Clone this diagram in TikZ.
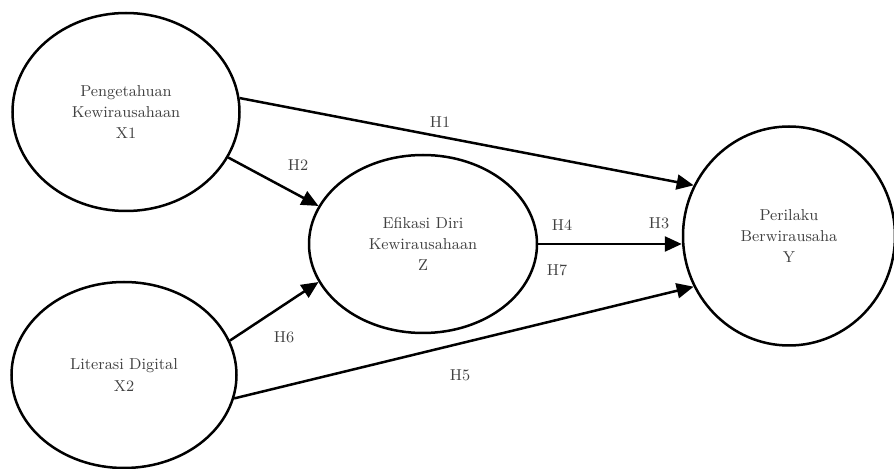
\documentclass[tikz,border=0pt]{standalone}
\usepackage{amsmath}
\usepackage{tikz}
\usetikzlibrary{arrows.meta}
\usetikzlibrary{shapes.geometric}

\begin{document}
\begin{tikzpicture}[x=0.02cm,y=-0.02cm,line width=0.5mm,
  latent/.style={draw,ellipse,inner sep=0pt,align=center,text=black!75,font=\small,execute at begin node=\setlength{\baselineskip}{12pt}},
  hyp/.style={-{Triangle[length=0.34cm,width=0.3cm]}},
  hlabel/.style={text=black!75,font=\small}]
\useasboundingbox (0,0) rectangle (894,469);

%constructs
\node[latent,minimum width=227*0.02cm,minimum height=198*0.02cm] (x1) at (126,112) {Pengetahuan\\Kewirausahaan\\X1};
\node[latent,minimum width=225*0.02cm,minimum height=186*0.02cm] (x2) at (124,375) {Literasi Digital\\X2};
\node[latent,minimum width=228*0.02cm,minimum height=178*0.02cm] (z) at (423,244) {Efikasi Diri\\Kewirausahaan\\Z};
\node[latent,minimum width=212*0.02cm,minimum height=219*0.02cm] (y) at (789,236) {Perilaku\\Berwirausaha\\Y};

%paths
\draw[hyp] (x1.7.5) -- (y.152);
\draw[hyp] (x1.-24.7) -- (z.160);
\draw[hyp] (z.east) -- (z.east -| y.west);
\draw[hyp] (x2.-12.5) -- (y.208);
\draw[hyp] (x2.18.6) -- (z.200);

%hypothesis labels
\node[hlabel] (h1) at (440,122) {H1};
\node[hlabel] (h2) at (298,165) {H2};
\node[hlabel] (h3) at (659,223) {H3};
\node[hlabel] (h4) at (562,225) {H4};
\node[hlabel] (h5) at (460,375) {H5};
\node[hlabel] (h6) at (284,337) {H6};
\node[hlabel] (h7) at (557,270) {H7};

\end{tikzpicture}
\end{document}
